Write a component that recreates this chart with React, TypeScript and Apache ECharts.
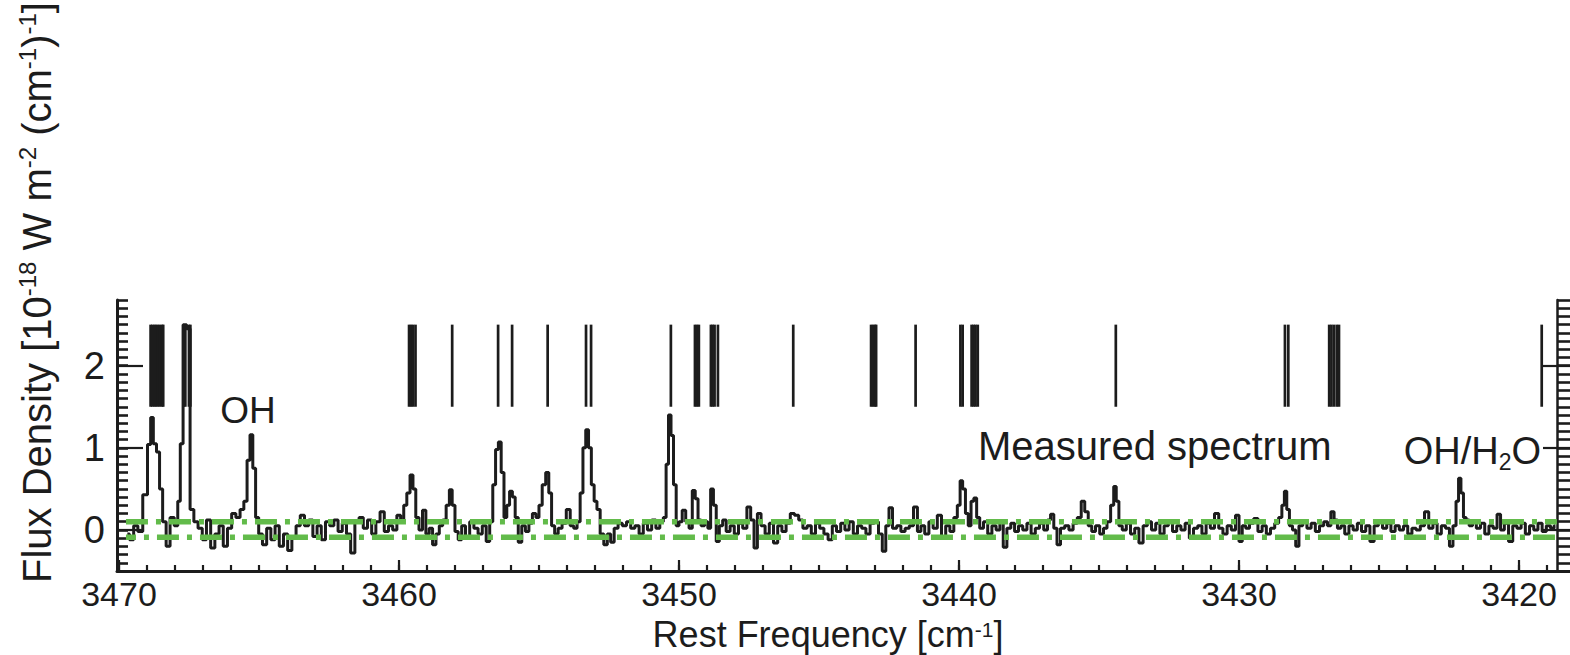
import React, { useEffect, useRef } from "react";
import * as echarts from "echarts";

// ---------- data ----------
const X_RANGE: [number, number] = [3418.18, 3470.07];
const Y_RANGE: [number, number] = [-0.5, 2.8];
const X_MAJOR_TICKS = [3470, 3460, 3450, 3440, 3430, 3420];
const X_MINOR_STEP = 1;
const Y_MAJOR_TICKS = [0, 1, 2];
const Y_MINOR_STEP = 0.1;

const NOISE_UPPER = 0.1;
const NOISE_LOWER = -0.09;
const NOISE_SPAN = [3469.75, 3418.65];

const LINE_MARK_LOW = 1.5;
const LINE_MARK_HIGH = 2.5;
const LINE_MARKS = [
  3468.87, 3468.81, 3468.74, 3468.68, 3468.61, 3468.54, 3468.46, 3468.42,
  3467.68, 3467.63, 3467.5, 3467.45,
  3459.64, 3459.57, 3459.5, 3459.41,
  3458.1, 3456.46, 3455.96, 3454.69, 3453.32, 3453.14,
  3450.29, 3449.43, 3449.36, 3449.29, 3448.86, 3448.8, 3448.73, 3448.61,
  3445.92, 3443.14, 3443.07, 3443.0, 3442.96, 3441.55,
  3439.95, 3439.87, 3439.55, 3439.48, 3439.41, 3439.33,
  3434.4, 3428.36, 3428.24,
  3426.78, 3426.7, 3426.61, 3426.51, 3426.43,
  3419.19,
];

const SPECTRUM: [number, number][] = [
  [3469.7, -0.05], [3469.55, -0.12], [3469.4, 0.05], [3469.25, -0.02],
  [3469.05, 0.43], [3468.91, 1.04], [3468.825, 1.37], [3468.72, 1.05], [3468.6, 0.95], [3468.5, 0.5], [3468.38, 0.1],
  [3468.25, -0.2], [3468.1, 0.15], [3467.95, 0.05],
  [3467.85, 0.35], [3467.77, 1.05], [3467.65, 2.5], [3467.52, 2.45], [3467.4, 0.25],
  [3467.25, 0.1], [3467.1, 0.02], [3466.95, -0.12], [3466.8, 0.12], [3466.65, -0.22], [3466.5, -0.05],
  [3466.35, 0.05], [3466.2, -0.2], [3466.05, 0.02], [3465.9, 0.2], [3465.75, 0.15], [3465.6, 0.25],
  [3465.48, 0.35], [3465.37, 0.85], [3465.27, 1.16], [3465.17, 0.75], [3465.07, 0.15],
  [3464.95, -0.05], [3464.8, -0.18], [3464.65, 0.02], [3464.5, -0.12], [3464.35, 0.05], [3464.2, -0.2],
  [3464.05, -0.05], [3463.9, -0.25], [3463.75, -0.1], [3463.6, 0.05], [3463.45, 0.18], [3463.3, 0.05],
  [3463.15, 0.12], [3463.0, -0.08], [3462.85, 0.05], [3462.7, -0.12], [3462.55, 0.1], [3462.4, 0.05],
  [3462.25, 0.12], [3462.1, -0.02], [3461.95, 0.08], [3461.8, -0.05], [3461.65, -0.28], [3461.5, 0.1],
  [3461.35, 0.15], [3461.2, 0.02], [3461.05, 0.12], [3460.9, -0.05], [3460.75, 0.1], [3460.6, 0.22],
  [3460.45, -0.02], [3460.3, 0.05], [3460.15, 0.0], [3460.0, 0.18], [3459.88, 0.1],
  [3459.78, 0.3], [3459.66, 0.45], [3459.55, 0.67], [3459.45, 0.5], [3459.35, 0.15],
  [3459.22, 0.0], [3459.1, 0.24], [3458.98, -0.05], [3458.86, 0.02], [3458.74, -0.18], [3458.62, -0.05],
  [3458.5, 0.05], [3458.38, 0.12], [3458.25, 0.3], [3458.15, 0.49], [3458.05, 0.3], [3457.95, -0.02],
  [3457.82, -0.12], [3457.7, 0.05], [3457.55, -0.08], [3457.4, 0.1], [3457.25, 0.02], [3457.1, -0.05],
  [3456.95, 0.05], [3456.82, -0.14],
  [3456.7, 0.1], [3456.6, 0.55], [3456.5, 0.98], [3456.4, 1.07], [3456.3, 0.7], [3456.2, 0.15],
  [3456.1, 0.3], [3456.0, 0.47], [3455.9, 0.4], [3455.8, 0.15],
  [3455.68, -0.15], [3455.55, 0.05], [3455.42, -0.02], [3455.3, 0.08], [3455.17, 0.2], [3455.05, 0.15],
  [3454.95, 0.3], [3454.82, 0.55], [3454.7, 0.7], [3454.6, 0.45], [3454.5, 0.05],
  [3454.38, -0.05], [3454.25, 0.02], [3454.1, 0.08], [3453.95, 0.25], [3453.82, 0.05], [3453.7, 0.02],
  [3453.58, 0.1], [3453.48, 0.45], [3453.38, 1.0], [3453.28, 1.22], [3453.18, 1.0], [3453.08, 0.55],
  [3452.98, 0.35], [3452.88, 0.25],
  [3452.75, -0.05], [3452.62, -0.18], [3452.5, -0.05], [3452.38, -0.15], [3452.25, 0.02], [3452.1, 0.08],
  [3451.95, 0.05], [3451.8, 0.1], [3451.65, 0.02], [3451.5, 0.05], [3451.35, -0.05], [3451.2, 0.08],
  [3451.05, 0.0], [3450.9, 0.12], [3450.75, 0.02], [3450.62, 0.1],
  [3450.5, 0.15], [3450.42, 0.8], [3450.33, 1.4], [3450.24, 1.15], [3450.15, 0.55], [3450.05, 0.05],
  [3449.95, 0.1], [3449.82, 0.24], [3449.7, 0.1], [3449.58, 0.02],
  [3449.47, 0.48], [3449.37, 0.38], [3449.27, 0.12], [3449.15, 0.05], [3449.02, 0.1], [3448.92, 0.02],
  [3448.82, 0.5], [3448.72, 0.3], [3448.62, -0.14], [3448.5, 0.05], [3448.38, 0.12], [3448.25, -0.02],
  [3448.1, 0.05], [3447.95, -0.05], [3447.8, 0.08], [3447.65, 0.02], [3447.5, 0.28], [3447.38, 0.12],
  [3447.26, -0.22], [3447.14, 0.2], [3447.0, 0.05], [3446.85, -0.05], [3446.7, 0.08], [3446.55, -0.16],
  [3446.4, 0.05], [3446.25, -0.02], [3446.1, 0.08], [3445.95, 0.2], [3445.8, 0.18], [3445.65, 0.12],
  [3445.5, 0.02], [3445.35, 0.05], [3445.2, -0.05], [3445.05, 0.08], [3444.9, 0.02], [3444.75, -0.05],
  [3444.6, -0.12], [3444.45, 0.05], [3444.3, -0.02], [3444.15, 0.08], [3444.0, 0.0], [3443.85, 0.1],
  [3443.7, -0.05], [3443.55, 0.05], [3443.4, 0.02], [3443.25, -0.05], [3443.1, 0.08], [3442.95, 0.1],
  [3442.8, -0.05], [3442.68, -0.26], [3442.55, 0.05], [3442.45, 0.27], [3442.3, 0.02], [3442.15, 0.05],
  [3442.0, -0.02], [3441.85, 0.02], [3441.7, 0.05], [3441.55, 0.28], [3441.42, -0.02], [3441.3, 0.05],
  [3441.15, -0.05], [3441.0, 0.1], [3440.85, 0.02], [3440.7, 0.18], [3440.55, -0.1], [3440.4, 0.05],
  [3440.25, -0.02], [3440.12, 0.15],
  [3440.0, 0.3], [3439.92, 0.6], [3439.82, 0.5], [3439.72, 0.2], [3439.62, 0.05], [3439.52, 0.35],
  [3439.42, 0.39], [3439.32, 0.15], [3439.2, 0.02],
  [3439.05, 0.1], [3438.9, -0.05], [3438.75, 0.05], [3438.6, 0.0], [3438.48, 0.1], [3438.36, -0.21],
  [3438.22, 0.02], [3438.08, 0.08], [3437.95, -0.02], [3437.8, 0.05], [3437.65, 0.0], [3437.5, 0.08],
  [3437.35, -0.05], [3437.2, 0.02], [3437.05, 0.08], [3436.9, 0.0], [3436.78, 0.12], [3436.68, 0.19],
  [3436.55, 0.02], [3436.45, -0.18], [3436.3, 0.02], [3436.15, 0.05], [3436.0, 0.0], [3435.85, 0.08],
  [3435.7, 0.15], [3435.57, 0.35], [3435.45, 0.22], [3435.32, 0.05], [3435.2, -0.02], [3435.05, 0.05],
  [3434.9, -0.05], [3434.78, 0.02], [3434.65, 0.1],
  [3434.52, 0.3], [3434.43, 0.53], [3434.34, 0.35], [3434.24, 0.05], [3434.1, 0.0], [3433.95, 0.08],
  [3433.8, -0.05], [3433.65, 0.02], [3433.5, -0.16], [3433.35, 0.05], [3433.2, 0.1], [3433.05, 0.0],
  [3432.9, 0.08], [3432.75, -0.05], [3432.6, 0.05], [3432.45, 0.1], [3432.3, -0.02], [3432.15, 0.05],
  [3432.0, 0.0], [3431.85, 0.08], [3431.7, -0.1], [3431.55, 0.02], [3431.4, 0.05], [3431.25, -0.05],
  [3431.1, 0.08], [3430.95, 0.02], [3430.8, 0.2], [3430.65, 0.02], [3430.5, -0.05], [3430.35, 0.05],
  [3430.2, 0.0], [3430.05, 0.18], [3429.95, -0.14], [3429.82, 0.05], [3429.7, 0.02], [3429.55, 0.08],
  [3429.4, 0.14], [3429.25, -0.02], [3429.1, 0.05], [3428.95, -0.05], [3428.8, 0.02], [3428.65, 0.08],
  [3428.52, 0.15], [3428.42, 0.3], [3428.34, 0.47], [3428.25, 0.25], [3428.15, 0.05], [3428.03, 0.0],
  [3427.92, -0.2], [3427.8, 0.05], [3427.65, 0.1], [3427.5, 0.02], [3427.35, 0.08], [3427.2, -0.02],
  [3427.05, 0.05], [3426.9, 0.1], [3426.78, 0.05], [3426.66, 0.22], [3426.55, 0.12], [3426.42, 0.02],
  [3426.3, 0.05], [3426.15, -0.05], [3426.0, 0.05], [3425.85, 0.0], [3425.7, 0.08], [3425.55, -0.02],
  [3425.4, 0.05], [3425.25, -0.14], [3425.1, 0.05], [3424.95, 0.1], [3424.8, 0.02], [3424.65, 0.08],
  [3424.5, -0.02], [3424.35, 0.05], [3424.2, 0.0], [3424.05, 0.05], [3423.9, -0.05], [3423.75, 0.02],
  [3423.6, 0.0], [3423.45, 0.05], [3423.3, 0.22], [3423.15, 0.02], [3423.0, 0.08], [3422.85, -0.05],
  [3422.7, 0.05], [3422.55, 0.02], [3422.42, -0.2], [3422.3, 0.05],
  [3422.2, 0.35], [3422.12, 0.63], [3422.03, 0.45], [3421.94, 0.15], [3421.84, 0.12], [3421.72, 0.05],
  [3421.6, 0.1], [3421.45, 0.02], [3421.3, 0.08], [3421.15, -0.05], [3421.0, 0.05], [3420.85, 0.02],
  [3420.72, 0.19], [3420.6, 0.0], [3420.45, 0.08], [3420.3, -0.14], [3420.15, 0.05], [3420.0, 0.02],
  [3419.85, 0.08], [3419.7, -0.05], [3419.55, 0.05], [3419.4, 0.0], [3419.25, 0.08], [3419.1, -0.02],
  [3418.95, 0.05], [3418.8, 0.02], [3418.7, 0.05],
];

// ---------- styling ----------
const FONT = '"Liberation Sans", Arial, Helvetica, sans-serif';
const INK = "#1c1c1c";
const GREEN = "#62bb4a";

function buildTicks(lo: number, hi: number, step: number): number[] {
  const out: number[] = [];
  const a = Math.ceil(lo / step - 1e-9);
  const b = Math.floor(hi / step + 1e-9);
  for (let k = a; k <= b; k++) out.push(Number((k * step).toFixed(4)));
  return out;
}

export default function App() {
  const ref = useRef<HTMLDivElement>(null);

  useEffect(() => {
    if (!ref.current) return;
    const chart = echarts.init(ref.current, undefined, { renderer: "svg" });
    const xMinor = buildTicks(X_RANGE[0], X_RANGE[1], X_MINOR_STEP);
    const yMinor = buildTicks(Y_RANGE[0], Y_RANGE[1], Y_MINOR_STEP);
    const plain = (v: number) => String(v);

    const baseX = {
      type: "value" as const,
      min: X_RANGE[0],
      max: X_RANGE[1],
      inverse: true,
      position: "bottom" as const,
      gridIndex: 0,
      splitLine: { show: false },
    };
    const baseY = {
      type: "value" as const,
      min: Y_RANGE[0],
      max: Y_RANGE[1],
      gridIndex: 0,
      splitLine: { show: false },
    };

    chart.setOption({
      animation: false,
      backgroundColor: "#ffffff",
      grid: { left: 117, right: 0, top: 300, bottom: 84, containLabel: false },
      xAxis: [
        {
          ...baseX,
          axisLine: { show: true, onZero: false, lineStyle: { color: INK, width: 3 } },
          axisTick: { show: true, inside: true, length: 11, customValues: X_MAJOR_TICKS, lineStyle: { color: INK, width: 2.2 } },
          axisLabel: { show: true, customValues: X_MAJOR_TICKS, formatter: plain, margin: 7, fontSize: 34, lineHeight: 32, fontFamily: FONT, color: INK },
        },
        {
          ...baseX,
          axisLine: { show: false, onZero: false },
          axisTick: { show: true, inside: true, length: 6, customValues: xMinor, lineStyle: { color: INK, width: 2.2 } },
          axisLabel: { show: false },
        },
      ],
      yAxis: [
        {
          ...baseY,
          position: "left",
          axisLine: { show: true, onZero: false, lineStyle: { color: INK, width: 3 } },
          axisTick: { show: true, inside: true, length: 26, customValues: Y_MAJOR_TICKS, lineStyle: { color: INK, width: 2.2 } },
          axisLabel: { show: true, customValues: Y_MAJOR_TICKS, formatter: plain, margin: 12, fontSize: 38, fontFamily: FONT, color: INK },
        },
        {
          ...baseY,
          position: "left",
          axisLine: { show: false, onZero: false },
          axisTick: { show: true, inside: true, length: 11, customValues: yMinor, lineStyle: { color: INK, width: 2.6 } },
          axisLabel: { show: false },
        },
        {
          ...baseY,
          position: "right",
          axisLine: { show: false, onZero: false },
          axisTick: { show: true, inside: true, length: 27, customValues: Y_MAJOR_TICKS, lineStyle: { color: INK, width: 2.2 } },
          axisLabel: { show: false },
        },
        {
          ...baseY,
          position: "right",
          axisLine: { show: false, onZero: false },
          axisTick: { show: true, inside: true, length: 12, customValues: yMinor, lineStyle: { color: INK, width: 2.6 } },
          axisLabel: { show: false },
        },
        {
          ...baseY,
          position: "right",
          offset: -13,
          axisLine: { show: true, onZero: false, lineStyle: { color: INK, width: 2.5 } },
          axisTick: { show: false },
          axisLabel: { show: false },
        },
      ],
      series: [
        {
          type: "custom",
          name: "line marks",
          xAxisIndex: 0,
          yAxisIndex: 0,
          data: LINE_MARKS.map((f) => [f, LINE_MARK_LOW, LINE_MARK_HIGH]),
          encode: { x: 0, y: [1, 2] },
          renderItem: (params: any, api: any) => {
            const f = api.value(0);
            const p1 = api.coord([f, api.value(1)]);
            const p2 = api.coord([f, api.value(2)]);
            return {
              type: "line",
              shape: { x1: p1[0], y1: p1[1], x2: p2[0], y2: p2[1] },
              style: { stroke: INK, lineWidth: 2.7 },
            };
          },
          silent: true,
        },
        {
          type: "line",
          name: "Measured spectrum",
          xAxisIndex: 0,
          yAxisIndex: 0,
          data: SPECTRUM,
          step: "middle",
          symbol: "none",
          lineStyle: { color: INK, width: 3 },
          silent: true,
        },
        {
          type: "line",
          name: "upper noise",
          xAxisIndex: 0,
          yAxisIndex: 0,
          data: [[NOISE_SPAN[0], NOISE_UPPER], [NOISE_SPAN[1], NOISE_UPPER]],
          symbol: "none",
          lineStyle: { color: GREEN, width: 5.5, type: [22, 8, 5, 8], cap: "butt" },
          silent: true,
        },
        {
          type: "line",
          name: "lower noise",
          xAxisIndex: 0,
          yAxisIndex: 0,
          data: [[NOISE_SPAN[0], NOISE_LOWER], [NOISE_SPAN[1], NOISE_LOWER]],
          symbol: "none",
          lineStyle: { color: GREEN, width: 5.5, type: [22, 8, 5, 8], cap: "butt", dashOffset: 12 },
          silent: true,
        },
      ],
      graphic: [
        {
          type: "text",
          x: 37,
          y: 583,
          rotation: Math.PI / 2,
          silent: true,
          style: {
            text: "Flux Density [10{sup|-18} W m{sup|-2} (cm{sup|-1}){sup|-1}]",
            font: `40px ${FONT}`,
            fill: INK,
            align: "left",
            verticalAlign: "middle",
            rich: {
              sup: { fontSize: 24, fontFamily: FONT, verticalAlign: "top", lineHeight: 44 },
            },
          },
        },
        {
          type: "text",
          x: 828,
          y: 634,
          silent: true,
          style: {
            text: "Rest Frequency [cm{sup|-1}]",
            font: `36px ${FONT}`,
            lineHeight: 30,
            fill: INK,
            align: "center",
            verticalAlign: "middle",
            rich: {
              sup: { fontSize: 21, fontFamily: FONT, verticalAlign: "top", lineHeight: 30 },
            },
          },
        },
        {
          type: "text",
          x: 248,
          y: 410,
          silent: true,
          style: { text: "OH", font: `37px ${FONT}`, fill: INK, align: "center", verticalAlign: "middle" },
        },
        {
          type: "text",
          x: 978,
          y: 446,
          silent: true,
          style: { text: "Measured spectrum", font: `40px ${FONT}`, fill: INK, align: "left", verticalAlign: "middle" },
        },
        {
          type: "text",
          x: 1541,
          y: 451,
          silent: true,
          style: {
            text: "OH/H{sub|2}O",
            font: `38px ${FONT}`,
            fill: INK,
            align: "right",
            verticalAlign: "middle",
            rich: {
              sub: { fontSize: 23, fontFamily: FONT, verticalAlign: "bottom", lineHeight: 44 },
            },
          },
        },
      ],
    });
    return () => chart.dispose();
  }, []);

  return (
    <div
      ref={ref}
      style={{ position: "fixed", left: 0, top: 0, width: 1570, height: 655, background: "#fff" }}
    />
  );
}
